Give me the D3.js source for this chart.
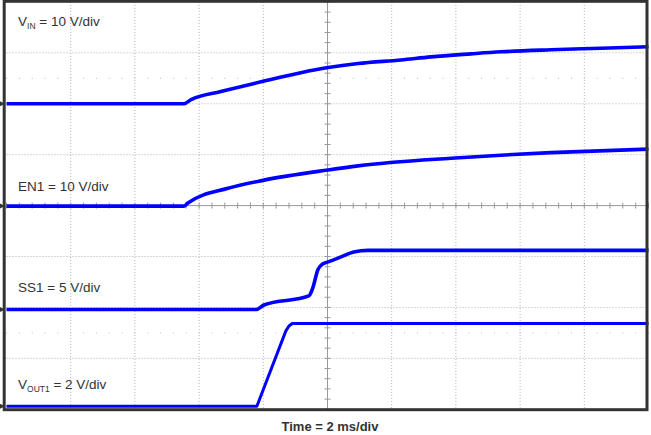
<!DOCTYPE html>
<html>
<head>
<meta charset="utf-8">
<script src="https://cdn.jsdelivr.net/npm/d3@7"></script>
<style>
  body { margin: 0; background: #fff; }
  svg { display: block; font-family: "Liberation Sans", Arial, sans-serif; }
  .lbl { fill: #333; font-size: 13.5px; }
</style>
</head>
<body>
<div class="scope"></div>
<script>
  // time in ms, values in volts
  var vinT  = [0, 5.53, 5.75, 6.68, 7.93, 9.17, 10.02, 10.95, 12.29, 13.22, 14.47, 15.40, 16.96, 18.52, 20];
  var vinV  = [0, 0, 0.8, 2.4, 4.3, 6.1, 7.1, 7.9, 8.6, 9.2, 9.8, 10.2, 10.6, 10.9, 11.2];

  var en1T  = [0, 5.53, 5.65, 6.90, 8.02, 10.02, 10.95, 13.85, 15.40, 16.96, 20];
  var en1V  = [0, 0, 0.6, 3.5, 5.1, 7.1, 7.9, 9.4, 10.0, 10.5, 11.2];

  var ss1T  = [0, 7.78, 8.02, 9.42, 9.49, 9.55, 9.70, 9.86, 10.02, 10.42, 10.82, 11.26, 20];
  var ss1V  = [0, 0, 0.44, 1.33, 1.7, 2.2, 3.9, 4.5, 4.67, 5.16, 5.65, 5.8, 5.8];

  var voutT = [0, 7.80, 8.70, 8.80, 8.90, 20];
  var voutV = [0, 0, 2.95, 3.15, 3.25, 3.25];

  // channel settings: V/div and ground position (divisions from centre)
  var channels = [
    { name: "VIN",   t: vinT,  v: vinV,  vdiv: 10, gnd: 2.0 },
    { name: "EN1",   t: en1T,  v: en1V,  vdiv: 10, gnd: -0.01 },
    { name: "SS1",   t: ss1T,  v: ss1V,  vdiv: 5,  gnd: -2.04 },
    { name: "VOUT1", t: voutT, v: voutV, vdiv: 2,  gnd: -3.94 }
  ];

  var width = 651, height = 435;

  var x = d3.scaleLinear().domain([0, 20]).range([6.5, 648.5]);
  var y = d3.scaleLinear().domain([-4, 4]).range([409.3, 1.9]);

  var svg = d3.select(".scope").append("svg")
    .attr("width", width)
    .attr("height", height);

  // grid
  var grid = svg.append("g");
  grid.selectAll(".vg")
    .data(d3.range(2, 20, 2).filter(function(d) { return d != 10; }))
    .enter().append("line")
    .attr("x1", function(d) { return x(d); })
    .attr("x2", function(d) { return x(d); })
    .attr("y1", y(4)).attr("y2", y(-4))
    .attr("stroke", "#b0b0b0").attr("stroke-dasharray", "1,2");
  grid.selectAll(".hg")
    .data([-3, -2, -1, 1, 2, 3])
    .enter().append("line")
    .attr("y1", function(d) { return y(d); })
    .attr("y2", function(d) { return y(d); })
    .attr("x1", x(0)).attr("x2", x(20))
    .attr("stroke", "#b0b0b0").attr("stroke-dasharray", "1,2");

  // sparse dotted rows
  var minorX = d3.range(0, 20.01, 0.4);
  [2.5, -2.5].forEach(function(r) {
    grid.selectAll(null)
      .data(minorX)
      .enter().append("rect")
      .attr("x", function(d) { return x(d) - 0.5; })
      .attr("y", y(r) - 0.5)
      .attr("width", 1).attr("height", 1)
      .attr("fill", "#b8b8b8");
  });

  // centre axes with ticks
  grid.append("line")
    .attr("x1", x(10)).attr("x2", x(10)).attr("y1", y(4)).attr("y2", y(-4))
    .attr("stroke", "#999");
  grid.append("line")
    .attr("x1", x(0)).attr("x2", x(20)).attr("y1", y(0)).attr("y2", y(0))
    .attr("stroke", "#999");
  grid.selectAll(".tx")
    .data(minorX)
    .enter().append("line")
    .attr("x1", function(d) { return x(d); })
    .attr("x2", function(d) { return x(d); })
    .attr("y1", y(0) - 3).attr("y2", y(0) + 3)
    .attr("stroke", "#999");
  grid.selectAll(".ty")
    .data(d3.range(-4, 4.01, 0.2))
    .enter().append("line")
    .attr("y1", function(d) { return y(d); })
    .attr("y2", function(d) { return y(d); })
    .attr("x1", x(10) - 3).attr("x2", x(10) + 3)
    .attr("stroke", "#999");

  // traces
  channels.forEach(function(ch) {
    var pts = ch.t.map(function(t, i) { return [t, ch.gnd + ch.v[i] / ch.vdiv]; });
    var line = d3.line()
      .x(function(d) { return x(d[0]); })
      .y(function(d) { return y(d[1]); })
      .curve(ch.name == "VOUT1" ? d3.curveLinear : d3.curveMonotoneX);
    svg.append("path")
      .datum(pts)
      .attr("d", line)
      .attr("fill", "none")
      .attr("stroke", "#0000ff")
      .attr("stroke-width", ch.name == "VOUT1" ? 3 : 3.6)
      .attr("stroke-linejoin", "round");
  });

  // frame
  svg.append("rect")
    .attr("x", 4.2).attr("y", 1.3)
    .attr("width", 647 - 4.2).attr("height", 409.7 - 1.3)
    .attr("fill", "none")
    .attr("stroke", "#333")
    .attr("stroke-width", 3);

  // ground markers
  channels.forEach(function(ch) {
    var gy = y(ch.gnd);
    svg.append("path")
      .attr("d", "M0," + (gy - 2.5) + "L5," + gy + "L0," + (gy + 2.5) + "Z")
      .attr("fill", "#333");
  });

  // labels
  function label(yy, main, sub, rest) {
    var t = svg.append("text").attr("class", "lbl").attr("x", 18).attr("y", yy);
    t.append("tspan").text(main);
    if (sub) {
      t.append("tspan").attr("font-size", "8.5px").attr("dy", 3).text(sub);
      t.append("tspan").attr("dy", -3).text(rest);
    }
  }
  label(25.5, "V", "IN", " = 10 V/div");
  label(191, "EN1 = 10 V/div");
  label(292, "SS1 = 5 V/div");
  label(388.5, "V", "OUT1", " = 2 V/div");

  svg.append("text")
    .attr("x", 330).attr("y", 431)
    .attr("text-anchor", "middle")
    .attr("font-weight", "bold")
    .attr("font-size", "13px")
    .attr("fill", "#333")
    .text("Time = 2 ms/div");
</script>
</body>
</html>
